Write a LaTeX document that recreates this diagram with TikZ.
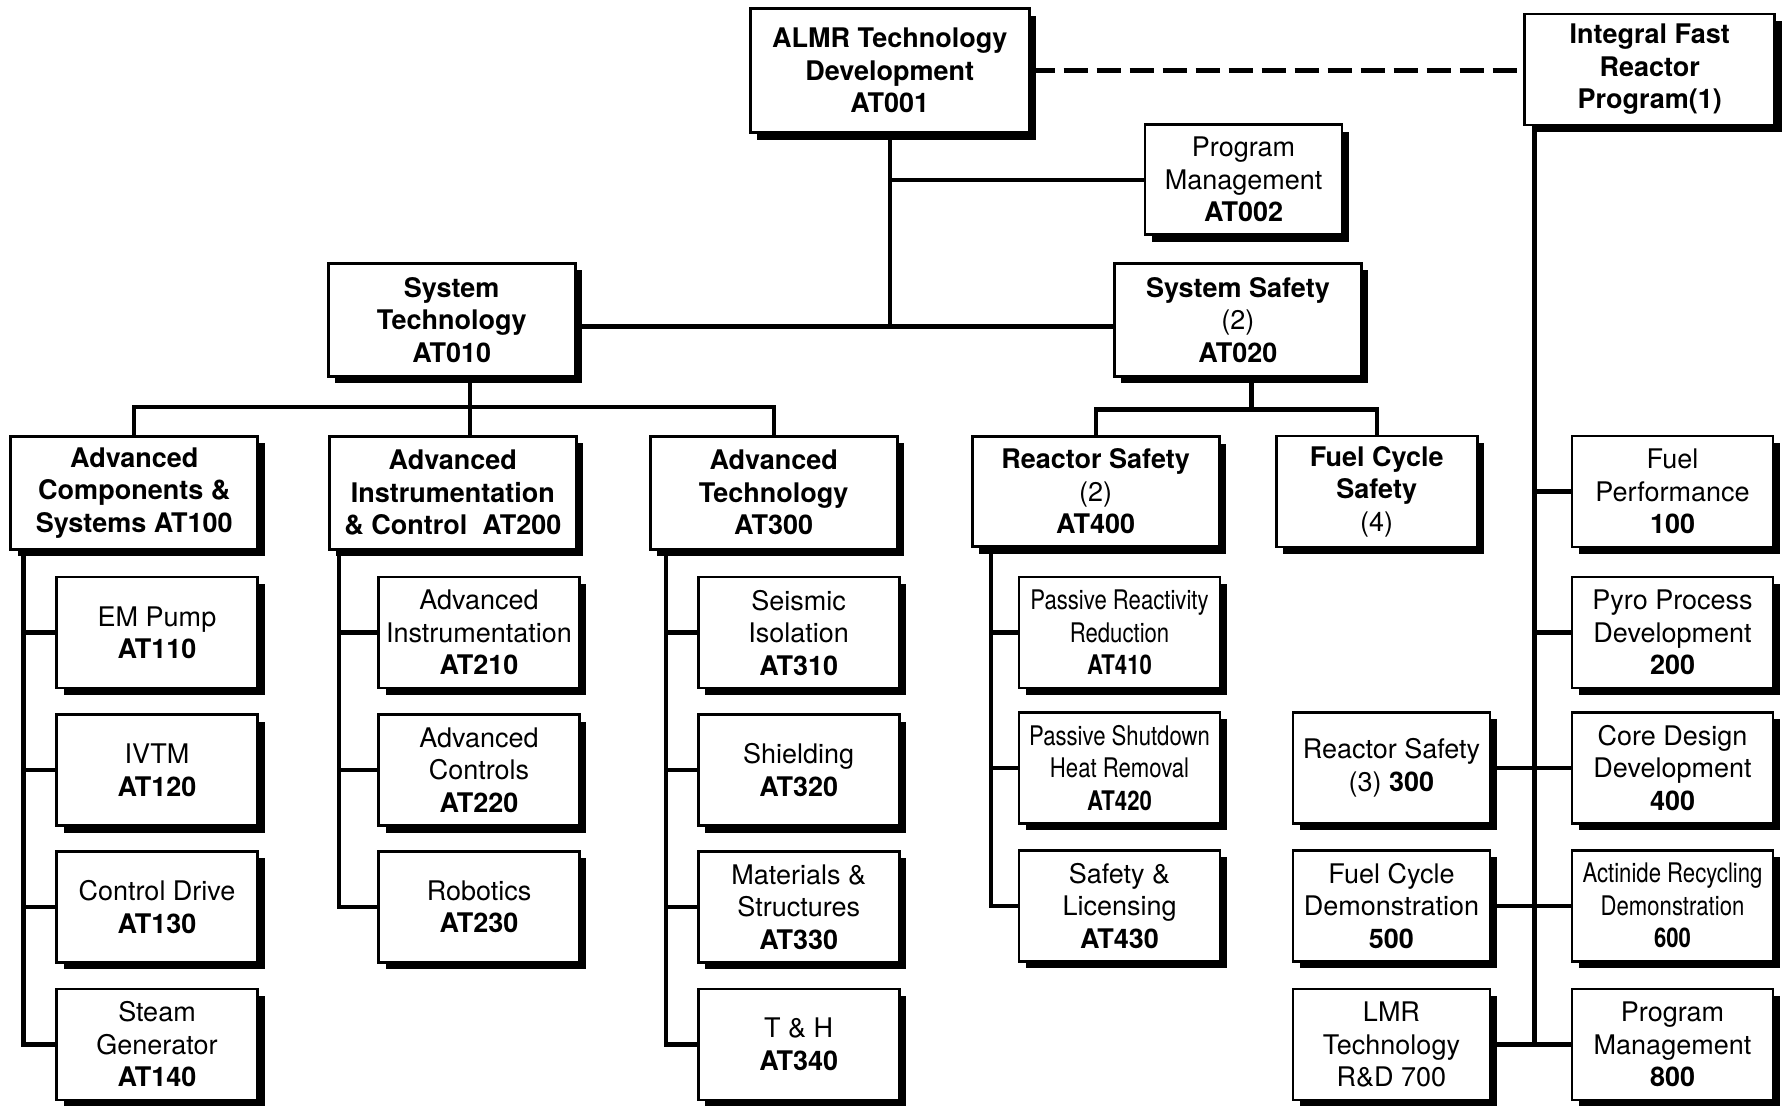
\documentclass[tikz,border=0pt]{standalone}
\usepackage{fontspec}
\setmainfont{TeX Gyre Heros}
\newfontfamily\narrowfont[FakeStretch=0.82]{TeX Gyre Heros}
\usetikzlibrary{shadows}

\tikzset{
  box/.style={draw,line width=2.8pt,fill=white,align=center,inner sep=1pt,
    font=\fontsize{27}{32.5}\selectfont,
    drop shadow={shadow xshift=7pt,shadow yshift=-7pt,fill=black,opacity=1}},
  grpbox/.style={box,minimum width=247pt,minimum height=113pt},
  taskbox/.style={box,minimum width=201pt,minimum height=111pt},
  hd/.style={font=\fontsize{27}{32.5}\selectfont\bfseries},
  cond/.style={font=\fontsize{27}{32.5}\selectfont\narrowfont},
  link/.style={line width=4.3pt},
  tie/.style={line width=4.8pt,dash pattern=on 24pt off 9pt},
}

\begin{document}
\begin{tikzpicture}[x=1.1378pt,y=-1.1378pt]
  \useasboundingbox (0,0) rectangle (1568,972);

  \node[grpbox,hd,minimum width=279pt,minimum height=124pt] (almr) at (782,62) {ALMR Technology\\Development\\AT001};
  \node[grpbox,hd,minimum width=250pt,minimum height=111pt] (ifr) at (1450,61) {Integral Fast\\Reactor\\Program(1)};
  \node[taskbox,minimum width=197pt,minimum height=110pt] (pm) at (1093,158) {Program\\Management\\\textbf{AT002}};

  \node[grpbox,hd] (st) at (397,281) {System\\Technology\\AT010};
  \node[grpbox] (ss) at (1088,281) {\textbf{System Safety}\\(2)\\\textbf{AT020}};

  \node[grpbox,hd] (ac) at (118,433) {Advanced\\Components \&\\Systems AT100};
  \node[grpbox,hd] (ic) at (398,433) {Advanced\\Instrumentation\\\& Control~ AT200};
  \node[grpbox,hd] (tech) at (680,433) {Advanced\\Technology\\AT300};
  \node[grpbox,minimum height=110pt] (rs) at (963,432) {\textbf{Reactor Safety}\\(2)\\\textbf{AT400}};
  \node[taskbox] (fcs) at (1210,432) {\textbf{Fuel Cycle}\\\textbf{Safety}\\(4)};
  \node[taskbox] (fp) at (1470,432) {Fuel\\Performance\\\textbf{100}};

  \node[taskbox] (em) at (138,556) {EM Pump\\\textbf{AT110}};
  \node[taskbox] (ivtm) at (138,677) {IVTM\\\textbf{AT120}};
  \node[taskbox] (cdrv) at (138,797) {Control Drive\\\textbf{AT130}};
  \node[taskbox] (sg) at (138,918) {Steam\\Generator\\\textbf{AT140}};

  \node[taskbox] (ains) at (421,556) {Advanced\\Instrumentation\\\textbf{AT210}};
  \node[taskbox] (actl) at (421,677) {Advanced\\Controls\\\textbf{AT220}};
  \node[taskbox] (robo) at (421,797) {Robotics\\\textbf{AT230}};

  \node[taskbox] (seis) at (702,556) {Seismic\\Isolation\\\textbf{AT310}};
  \node[taskbox] (shld) at (702,677) {Shielding\\\textbf{AT320}};
  \node[taskbox] (mats) at (702,797) {Materials \&\\Structures\\\textbf{AT330}};
  \node[taskbox] (th) at (702,918) {T \& H\\\textbf{AT340}};

  \node[taskbox,cond] (prr) at (984,556) {Passive Reactivity\\Reduction\\\textbf{AT410}};
  \node[taskbox,cond] (pshr) at (984,675) {Passive Shutdown\\Heat Removal\\\textbf{AT420}};
  \node[taskbox] (slic) at (984,796) {Safety \&\\Licensing\\\textbf{AT430}};

  \node[taskbox,minimum width=197pt] (rs3) at (1223,675) {Reactor Safety\\(3) \textbf{300}};
  \node[taskbox,minimum width=197pt] (fcd) at (1223,796) {Fuel Cycle\\Demonstration\\\textbf{500}};
  \node[taskbox,minimum width=197pt] (lmr) at (1223,918) {LMR\\Technology\\R\&D 700};

  \node[taskbox] (pyro) at (1470,556) {Pyro Process\\Development\\\textbf{200}};
  \node[taskbox] (core) at (1470,675) {Core Design\\Development\\\textbf{400}};
  \node[taskbox,cond] (acti) at (1470,796) {Actinide Recycling\\Demonstration\\\textbf{600}};
  \node[taskbox] (mgmt) at (1470,918) {Program\\Management\\\textbf{800}};

  \coordinate (stbus) at (413,358);
  \coordinate (ssbus) at (1100,360);
  \coordinate (topbus) at (782,287);

  \draw[tie] (almr.east) -- (almr.east -| ifr.west);
  \draw[link] (almr.south) -- (topbus);
  \draw[link] (almr.south |- pm.west) -- (pm.west);
  \draw[link] (topbus -| st.east) -- (topbus -| ss.west);

  \draw[link] (st.south -| stbus) -- (ic.north -| stbus);
  \draw[link] (ac.north) |- (stbus) -| (tech.north);
  \draw[link] (ss.south -| ssbus) -- (ssbus);
  \draw[link] (rs.north) |- (ssbus) -| (fcs.north);

  \foreach \c in {em,ivtm,cdrv,sg} \draw[link] ([xshift=14pt]ac.south west) |- (\c.west);
  \foreach \c in {ains,actl,robo} \draw[link] ([xshift=11pt]ic.south west) |- (\c.west);
  \foreach \c in {seis,shld,mats,th} \draw[link] ([xshift=17pt]tech.south west) |- (\c.west);
  \foreach \c in {prr,pshr,slic} \draw[link] ([xshift=20pt]rs.south west) |- (\c.west);
  \foreach \c in {fp,pyro,core,acti,mgmt} \draw[link] ([xshift=11pt]ifr.south west) |- (\c.west);
  \foreach \c in {rs3,fcd,lmr} \draw[link] ([xshift=11pt]ifr.south west) |- (\c.east);
\end{tikzpicture}
\end{document}
